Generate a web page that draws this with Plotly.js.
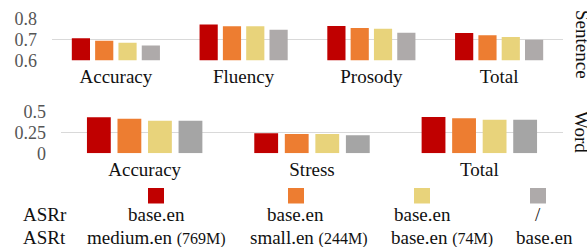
<!DOCTYPE html>
<html>
<head>
<meta charset="utf-8">
<script src="https://cdn.plot.ly/plotly-3.0.1.min.js"></script>
<style>html,body{margin:0;padding:0;background:#fff;}#chart{width:587px;height:247px;}</style>
</head>
<body>
<div id="chart"></div>
<script>
// ---- data ----
const sentenceCats = ["Accuracy", "Fluency", "Prosody", "Total"];
const wordCats = ["Accuracy", "Stress", "Total"];
const seriesNames = ["medium.en", "small.en", "base.en (74M)", "base.en"];
const sentMedium = [0.705, 0.771, 0.763, 0.730];
const sentSmall  = [0.693, 0.762, 0.754, 0.719];
const sentBase74 = [0.684, 0.762, 0.750, 0.711];
const sentBase   = [0.670, 0.746, 0.731, 0.698];
const wordMedium = [0.433, 0.240, 0.436];
const wordSmall  = [0.416, 0.232, 0.421];
const wordBase74 = [0.392, 0.232, 0.404];
const wordBase   = [0.392, 0.218, 0.404];
const sentTickVals = [0.6, 0.7, 0.8];
const sentTickText = ["0.6", "0.7", "0.8"];
const wordTickVals = [0, 0.25, 0.5];
const wordTickText = ["0", "0.25", "0.5"];
const asrrLabels = ["base.en", "base.en", "base.en", "/"];
const asrtLabels = ["medium.en", "small.en", "base.en", "base.en"];
const asrtSizes = ["(769M)", "(244M)", "(74M)", ""];

// ---- style ----
const colors = ["#C00000", "#ED7D31", "#E8D37B", "#AEAAAA"];
const wordColors = ["#C00000", "#ED7D31", "#E8D37B", "#A5A5A5"];
const W = 587, H = 247;
const px = v => v / W;
const py = v => 1 - v / H;
const FONT = "Liberation Serif";

const sentVals = [sentMedium, sentSmall, sentBase74, sentBase];
const wordVals = [wordMedium, wordSmall, wordBase74, wordBase];
const traces = [];
sentVals.forEach((v, i) => traces.push({
  type: "bar", x: sentenceCats, y: v, name: seriesNames[i], xaxis: "x", yaxis: "y",
  marker: {color: colors[i]}, showlegend: false, hoverinfo: "skip"
}));
wordVals.forEach((v, i) => traces.push({
  type: "bar", x: wordCats, y: v, name: seriesNames[i], xaxis: "x2", yaxis: "y2",
  marker: {color: wordColors[i]}, showlegend: false, hoverinfo: "skip"
}));

const axisX = {
  showgrid: false, zeroline: false, showline: false, ticks: "",
  tickfont: {family: FONT, size: 19, color: "#111"}, ticklabelstandoff: 3, fixedrange: true
};
const axisY = {
  showgrid: true, gridcolor: "#D9D9D9", gridwidth: 1.5, zeroline: false, showline: false, ticks: "",
  tickfont: {family: FONT, size: 18, color: "#555"}, ticklabelstandoff: 14, fixedrange: true
};

const shapes = [];
const squareCenters = [156, 296, 422, 538];
squareCenters.forEach((c, i) => shapes.push({
  type: "rect", xref: "paper", yref: "paper",
  x0: px(c - 8), x1: px(c + 8), y0: py(203.5), y1: py(188), fillcolor: colors[i], line: {width: 0}
}));

const annotations = [];
const ann = (text, x, y, anchor, extra) => annotations.push(Object.assign({
  text: text, x: px(x), y: py(y), xref: "paper", yref: "paper", xanchor: anchor, yanchor: "middle",
  showarrow: false, font: {family: FONT, size: 19, color: "#111"}
}, extra || {}));
ann("ASRr", 21, 214, "left");
ann("ASRt", 21, 237, "left");
const row1Centers = [156, 296, 422, 538];
asrrLabels.forEach((t, i) => ann(t, row1Centers[i], 214, "center"));
const row2Lefts = [85, 248, 389, 514];
asrtLabels.forEach((t, i) => ann(
  t + (asrtSizes[i] ? " <span style='font-size:16px'>" + asrtSizes[i] + "</span>" : ""),
  row2Lefts[i], 237, "left"));
ann("Sentence", 583, 44, "center", {textangle: 90});
ann("Word", 582, 132, "center", {textangle: 90});

const layout = {
  width: W, height: H, margin: {l: 0, r: 0, t: 0, b: 0},
  paper_bgcolor: "#fff", plot_bgcolor: "#fff",
  font: {family: FONT},
  barmode: "group", bargap: 0.27, bargroupgap: 0.22,
  xaxis: Object.assign({}, axisX, {domain: [px(52), px(563)], anchor: "y"}),
  yaxis: Object.assign({}, axisY, {domain: [py(60.3), py(18.3)], range: [0.6, 0.8], tickvals: sentTickVals, ticktext: sentTickText, anchor: "x"}),
  xaxis2: Object.assign({}, axisX, {domain: [px(61), px(563)], anchor: "y2"}),
  yaxis2: Object.assign({}, axisY, {domain: [py(153.3), py(111.7)], range: [0, 0.5], tickvals: wordTickVals, ticktext: wordTickText, anchor: "x2"}),
  shapes: shapes, annotations: annotations, showlegend: false
};
Plotly.newPlot("chart", traces, layout, {displayModeBar: false, staticPlot: true});
</script>
</body>
</html>
